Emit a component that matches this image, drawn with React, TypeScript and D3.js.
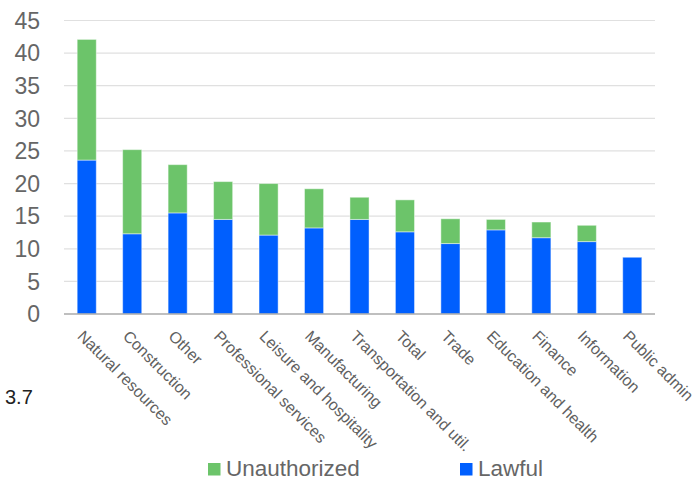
import React, { useRef, useEffect } from 'react';
import * as d3 from 'd3';

const CATEGORIES = [
    "Natural resources", "Construction", "Other", "Professional services",
    "Leisure and hospitality", "Manufacturing", "Transportation and util.",
    "Total", "Trade", "Education and health", "Finance", "Information", "Public admin"
];

const LAWFUL = [23.6, 12.3, 15.5, 14.5, 12.1, 13.2, 14.5, 12.6, 10.8, 12.9, 11.7, 11.1, 8.7];
const UNAUTHORIZED = [18.5, 12.9, 7.4, 5.8, 7.9, 6.0, 3.4, 4.9, 3.8, 1.6, 2.4, 2.5, 0];

const Y_TICKS = [0, 5, 10, 15, 20, 25, 30, 35, 40, 45];

const SERIES = [
    { key: "lawful", label: "Lawful", color: "#005ffe" },
    { key: "unauthorized", label: "Unauthorized", color: "#6cc46a" }
];

const LEGEND_ORDER = ["unauthorized", "lawful"];

const NOTE = "3.7";

const WIDTH = 700;
const HEIGHT = 481;

const App: React.FC = () => {
    const svgRef = useRef<SVGSVGElement>(null);

    useEffect(() => {
        if (!svgRef.current) return;
        const svg = d3.select(svgRef.current);
        svg.selectAll("*").remove();

        const font = "'Liberation Sans', Arial, sans-serif";
        const margin = { top: 20.5, right: 45, bottom: 167, left: 64 };
        const plotRight = WIDTH - margin.right;
        const plotBottom = HEIGHT - margin.bottom;

        const rows = CATEGORIES.map((c, i) => ({
            category: c,
            lawful: LAWFUL[i],
            unauthorized: UNAUTHORIZED[i]
        }));

        const x = d3.scaleBand<string>()
            .domain(CATEGORIES)
            .range([margin.left, plotRight])
            .paddingInner(0.58)
            .paddingOuter(0.29);

        const y = d3.scaleLinear()
            .domain([0, 45])
            .range([plotBottom, margin.top]);

        const stacked = d3.stack<any>().keys(SERIES.map(s => s.key))(rows);
        const colorOf = (key: string) => SERIES.find(s => s.key === key)!.color;

        // grid
        svg.append("g")
            .selectAll("line")
            .data(Y_TICKS.filter(t => t > 0))
            .join("line")
            .attr("x1", margin.left)
            .attr("x2", plotRight)
            .attr("y1", d => y(d))
            .attr("y2", d => y(d))
            .attr("stroke", "#e0e0e0")
            .attr("stroke-width", 1.2);

        // y labels
        svg.append("g")
            .selectAll("text")
            .data(Y_TICKS)
            .join("text")
            .attr("x", 40)
            .attr("y", d => y(d))
            .attr("dy", "0.36em")
            .attr("text-anchor", "end")
            .attr("fill", "#666")
            .style("font-family", font)
            .style("font-size", "23px")
            .text(d => d);

        // bars
        svg.append("g")
            .selectAll("g")
            .data(stacked)
            .join("g")
            .attr("fill", d => colorOf(d.key))
            .selectAll("rect")
            .data(d => d.filter(p => p[1] - p[0] > 0))
            .join("rect")
            .attr("x", d => x(d.data.category)!)
            .attr("width", x.bandwidth())
            .attr("y", d => y(d[1]))
            .attr("height", d => y(d[0]) - y(d[1]))
            .attr("stroke", "rgba(255,255,255,0.45)")
            .attr("stroke-width", 1);

        // baseline
        svg.append("line")
            .attr("x1", margin.left)
            .attr("x2", plotRight)
            .attr("y1", y(0))
            .attr("y2", y(0))
            .attr("stroke", "#aaa")
            .attr("stroke-width", 1.5);

        // x labels
        svg.append("g")
            .selectAll("text")
            .data(CATEGORIES)
            .join("text")
            .attr("transform", d => `translate(${x(d)! + x.bandwidth() / 2 - 2},${plotBottom + 15}) rotate(45)`)
            .attr("dy", "0.72em")
            .attr("fill", "#606060")
            .style("font-family", font)
            .style("font-size", "16px")
            .text(d => d);

        // side note
        svg.append("text")
            .attr("x", 5)
            .attr("y", 404)
            .attr("fill", "#222")
            .style("font-family", font)
            .style("font-size", "20px")
            .text(NOTE);

        // legend
        const legendX = [208, 460];
        const legend = svg.append("g");
        LEGEND_ORDER.forEach((key, i) => {
            const s = SERIES.find(d => d.key === key)!;
            const row = legend.append("g").attr("transform", `translate(${legendX[i]},463)`);
            row.append("rect")
                .attr("width", 12.5)
                .attr("height", 12.5)
                .attr("fill", s.color);
            row.append("text")
                .attr("x", 18)
                .attr("y", 13)
                .attr("fill", "#666")
                .style("font-family", font)
                .style("font-size", "22.5px")
                .text(s.label);
        });
    }, []);

    return (
        <div style={{ position: "absolute", top: 0, left: 0 }}>
            <svg ref={svgRef} width={WIDTH} height={HEIGHT} style={{ display: "block", background: "#fff" }} />
        </div>
    );
};

export default App;
